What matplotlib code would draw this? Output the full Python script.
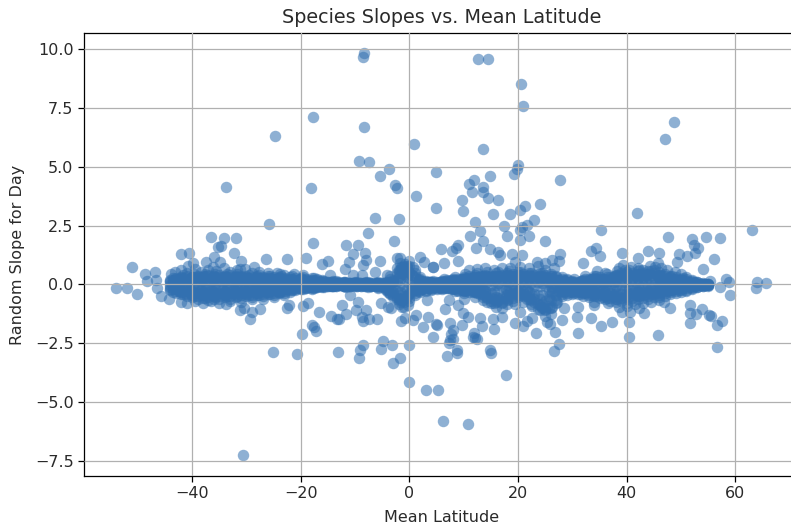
#!/usr/bin/env python3
"""Species slopes vs. mean latitude scatter."""

import matplotlib
matplotlib.use('Agg')
import matplotlib.pyplot as plt
import numpy as np

# ---------------------------------------------------------------------
# DATA
# ---------------------------------------------------------------------

# the dense band around zero
BAND_LAT = [
    -44, -43, -42, -41, -40, -39, -38, -37, -36, -35,
    -34, -33, -32, -31, -30, -29, -28, -27, -26, -25,
    -24, -23, -22, -21, -20, -19, -18, -17, -16, -15,
    -14, -13, -12, -11, -10, -9, -8, -7, -6, -5,
    -4, -3, -2, -1, 0, 1, 2, 3, 4, 5,
    6, 7, 8, 9, 10, 11, 12, 13, 14, 15,
    16, 17, 18, 19, 20, 21, 22, 23, 24, 25,
    26, 27, 28, 29, 30, 31, 32, 33, 34, 35,
    36, 37, 38, 39, 40, 41, 42, 43, 44, 45,
    46, 47, 48, 49, 50, 51, 52, 53, 54, 55,
]
BAND_TOP = [
    .20, .26, .30, .36, .33, .38, .35, .40, .36, .39,
    .35, .40, .34, .38, .36, .33, .37, .32, .35, .30,
    .32, .28, .30, .26, .29, .24, .26, .22, .18, .12,
    .15, .10, .12, .08, .10, .07, .09, .06, .08, .07,
    .10, .20, .60, .80, 1.0, .60, .30, .15, .12, .10,
    .14, .18, .25, .22, .30, .34, .40, .36, .42, .38,
    .48, .42, .50, .44, .52, .46, .50, .42, .48, .40,
    .44, .36, .30, .22, .15, .10, .18, .25, .35, .30,
    .22, .30, .40, .50, .55, .48, .56, .50, .58, .60,
    .52, .45, .38, .30, .25, .30, .20, .12, .05, .00,
]
BAND_RIM_HIGH = [
    .16, .22, .26, .30, .30, .32, .30, .34, .31, .33,
    .31, .33, .30, .32, .30, .29, .30, .27, .28, .25,
    .26, .24, .25, .21, .23, .19, .20, .17, .14, .10,
    .11, .08, .10, .07, .08, .06, .07, .05, .06, .05,
    .08, .16, .48, .64, .80, .48, .24, .12, .10, .08,
    .11, .14, .20, .18, .25, .28, .32, .30, .34, .32,
    .38, .34, .40, .36, .42, .38, .40, .34, .38, .32,
    .36, .30, .24, .18, .12, .08, .14, .20, .28, .25,
    .18, .25, .32, .40, .44, .40, .45, .40, .46, .48,
    .42, .36, .30, .24, .20, .24, .16, .10, .04, .00,
]
BAND_UPPER = [
    .10, .12, .16, .18, .20, .17, .21, .18, .22, .19,
    .20, .17, .21, .18, .16, .19, .15, .18, .14, .17,
    .15, .12, .16, .13, .14, .11, .13, .10, .09, .07,
    .08, .06, .07, .05, .06, .04, .05, .04, .05, .04,
    .06, .12, .30, .45, .55, .32, .15, .09, .08, .06,
    .08, .10, .13, .11, .16, .18, .20, .19, .22, .20,
    .25, .21, .26, .23, .27, .24, .26, .22, .25, .21,
    .23, .19, .16, .12, .09, .06, .10, .13, .18, .16,
    .12, .16, .21, .26, .29, .25, .29, .26, .30, .31,
    .27, .23, .20, .16, .13, .15, .10, .06, .03, .00,
]
BAND_CENTER = [
    -.02, -.04, -.06, -.05, -.08, -.06, -.09, -.07, -.10, -.08,
    -.07, -.09, -.06, -.08, -.05, -.07, -.04, -.06, -.03, -.05,
    -.04, -.03, -.02, -.04, -.01, -.03, -.02, -.01, -.02, .01,
    .02, .01, .02, .00, .02, .00, .01, -.01, .01, -.01,
    -.02, -.05, -.08, -.06, .05, -.04, -.03, -.02, -.03, -.02,
    -.01, .00, .01, -.02, -.01, .01, .02, -.01, .01, -.03,
    -.04, -.05, -.02, -.03, -.01, -.02, -.03, -.05, -.06, -.08,
    -.06, -.04, -.03, -.04, -.05, -.06, -.05, -.04, -.03, -.05,
    -.05, -.06, -.05, -.04, -.06, -.05, -.03, -.04, -.02, -.03,
    -.02, -.03, -.01, -.02, -.03, -.01, .00, -.02, -.01, -.02,
]
BAND_LOWER = [
    -.12, -.18, -.24, -.26, -.30, -.32, -.31, -.34, -.33, -.35,
    -.30, -.33, -.28, -.31, -.27, -.29, -.25, -.28, -.23, -.25,
    -.21, -.19, -.16, -.14, -.11, -.09, -.10, -.07, -.06, -.04,
    -.05, -.03, -.04, -.05, -.03, -.04, -.03, -.05, -.04, -.06,
    -.16, -.30, -.45, -.50, -.38, -.25, -.17, -.15, -.12, -.11,
    -.10, -.09, -.11, -.15, -.19, -.16, -.18, -.23, -.26, -.38,
    -.52, -.55, -.46, -.38, -.30, -.27, -.33, -.41, -.60, -.72,
    -.68, -.44, -.27, -.25, -.23, -.22, -.26, -.30, -.27, -.32,
    -.34, -.38, -.40, -.39, -.42, -.38, -.34, -.32, -.33, -.29,
    -.30, -.26, -.22, -.19, -.16, -.15, -.10, -.07, -.04, -.03,
]
BAND_RIM_LOW = [
    -.18, -.28, -.34, -.40, -.44, -.50, -.46, -.52, -.48, -.50,
    -.44, -.48, -.42, -.45, -.40, -.43, -.36, -.40, -.34, -.36,
    -.30, -.28, -.24, -.20, -.16, -.13, -.14, -.10, -.08, -.05,
    -.06, -.03, -.05, -.06, -.04, -.05, -.04, -.06, -.05, -.08,
    -.24, -.44, -.68, -.76, -.56, -.36, -.24, -.22, -.18, -.16,
    -.14, -.13, -.16, -.22, -.28, -.24, -.27, -.34, -.38, -.56,
    -.76, -.80, -.68, -.56, -.44, -.40, -.48, -.60, -.88, -1.08,
    -1.0, -.64, -.40, -.36, -.34, -.32, -.38, -.44, -.40, -.46,
    -.50, -.56, -.60, -.58, -.62, -.56, -.50, -.46, -.48, -.42,
    -.44, -.38, -.32, -.28, -.24, -.22, -.14, -.10, -.06, -.04,
]
BAND_BOTTOM = [
    -.22, -.35, -.42, -.50, -.55, -.62, -.58, -.65, -.60, -.63,
    -.55, -.60, -.52, -.56, -.50, -.54, -.46, -.50, -.42, -.45,
    -.38, -.35, -.30, -.25, -.20, -.16, -.18, -.12, -.10, -.06,
    -.08, -.04, -.06, -.08, -.05, -.07, -.05, -.08, -.06, -.10,
    -.30, -.55, -.85, -.95, -.70, -.45, -.30, -.28, -.22, -.20,
    -.18, -.16, -.20, -.28, -.35, -.30, -.34, -.42, -.48, -.70,
    -.95, -1.0, -.85, -.70, -.55, -.50, -.60, -.75, -1.1, -1.35,
    -1.25, -.80, -.50, -.45, -.42, -.40, -.48, -.55, -.50, -.58,
    -.62, -.70, -.75, -.72, -.78, -.70, -.62, -.58, -.60, -.52,
    -.55, -.48, -.40, -.35, -.30, -.28, -.18, -.12, -.08, -.05,
]

# second pass through the band, at the latitudes between the first ones
FILL_LAT = [
    -43.6, -42.4, -41.7, -40.4, -39.6, -38.3, -37.6, -36.4, -35.7,
    -34.4, -33.6, -32.3, -31.7, -30.4, -29.6, -28.3, -27.6, -26.4, -25.7,
    -24.4, -23.6, -22.3, -21.7, -20.4, -19.6, -18.3, -17.6, -16.4, -15.7,
    -14.4, -13.6, -12.3, -11.7, -10.4, -9.6, -8.3, -7.6, -6.4, -5.7,
    -4.4, -3.6, -2.3, -1.7, -0.4, 0.4, 1.7, 2.3, 3.6, 4.4,
    5.7, 6.3, 7.6, 8.4, 9.6, 10.3, 11.7, 12.4, 13.6, 14.3,
    15.6, 16.4, 17.7, 18.3, 19.6, 20.4, 21.7, 22.3, 23.6, 24.4,
    25.7, 26.3, 27.6, 28.4, 29.7, 30.3, 31.6, 32.4, 33.7, 34.3,
    35.6, 36.4, 37.7, 38.3, 39.6, 40.4, 41.7, 42.3, 43.6, 44.4,
    45.7, 46.3, 47.6, 48.4, 49.7, 50.3, 51.6, 52.4, 53.7, 54.4,
]
FILL_A = [
    .28, .22, .40, .25, .44, .28, .46, .26, .43,
    .30, .45, .27, .44, .24, .42, .26, .40, .22, .38,
    .24, .36, .20, .35, .18, .33, .16, .29, .10, .16,
    .07, .14, .06, .11, .05, .12, .05, .10, .04, .11,
    .12, .35, .70, .90, .80, .42, .20, .16, .09, .14,
    .10, .24, .15, .31, .22, .44, .28, .47, .30, .52,
    .33, .55, .36, .56, .34, .54, .32, .50, .30, .47,
    .28, .35, .18, .20, .08, .22, .14, .38, .22, .34,
    .24, .44, .38, .58, .40, .60, .38, .62, .44, .56,
    .34, .42, .24, .36, .18, .26, .08, .10, .02, .00,
]
FILL_HIGH = [
    .18, .20, .28, .24, .32, .26, .34, .28, .32,
    .28, .32, .26, .30, .26, .29, .25, .28, .22, .26,
    .22, .24, .20, .22, .17, .20, .15, .17, .10, .11,
    .10, .09, .07, .08, .05, .07, .05, .06, .05, .07,
    .08, .22, .48, .62, .72, .40, .18, .12, .10, .09,
    .10, .14, .18, .20, .24, .28, .30, .32, .34, .36,
    .36, .38, .36, .40, .38, .40, .36, .38, .32, .34,
    .28, .24, .16, .14, .09, .12, .15, .24, .22, .24,
    .18, .30, .32, .40, .38, .42, .40, .44, .42, .42,
    .34, .32, .24, .22, .16, .18, .08, .06, .02, .00,
]
FILL_B = [
    .05, .08, .06, .12, .04, .14, .06, .13, .08,
    .12, .06, .13, .05, .10, .07, .11, .04, .10, .06,
    .08, .03, .09, .05, .08, .04, .06, .03, .04, .02,
    .05, .02, .04, .01, .03, .02, .03, .00, .03, .02,
    .02, .05, .15, .22, .30, .12, .06, .04, .03, .02,
    .04, .05, .08, .04, .08, .10, .12, .08, .12, .09,
    .14, .08, .13, .09, .14, .08, .12, .07, .10, .08,
    .10, .07, .05, .04, .02, .03, .06, .08, .07, .05,
    .07, .10, .12, .15, .12, .16, .12, .17, .14, .15,
    .11, .09, .08, .07, .06, .05, .03, .02, .01, .00,
]
FILL_C = [
    -.08, -.14, -.16, -.22, -.18, -.24, -.20, -.26, -.19,
    -.22, -.18, -.24, -.16, -.22, -.15, -.20, -.13, -.18, -.12,
    -.14, -.10, -.11, -.08, -.07, -.06, -.05, -.04, -.03, -.02,
    -.03, -.01, -.02, -.03, -.01, -.02, -.03, -.02, -.04, -.03,
    -.10, -.18, -.28, -.30, -.20, -.12, -.10, -.08, -.06, -.06,
    -.05, -.06, -.08, -.10, -.09, -.11, -.13, -.16, -.24, -.32,
    -.34, -.28, -.20, -.16, -.15, -.18, -.24, -.36, -.46, -.45,
    -.28, -.17, -.14, -.13, -.14, -.16, -.17, -.15, -.19, -.20,
    -.22, -.24, -.22, -.25, -.21, -.19, -.18, -.19, -.16, -.17,
    -.14, -.12, -.10, -.09, -.08, -.05, -.04, -.02, -.01, -.02,
]
FILL_LOW = [
    -.20, -.24, -.30, -.34, -.38, -.40, -.42, -.38, -.40,
    -.38, -.36, -.36, -.34, -.34, -.32, -.32, -.30, -.28, -.28,
    -.24, -.22, -.18, -.16, -.12, -.12, -.09, -.09, -.05, -.06,
    -.05, -.05, -.04, -.06, -.03, -.05, -.04, -.06, -.04, -.10,
    -.20, -.36, -.52, -.60, -.44, -.28, -.20, -.16, -.14, -.12,
    -.10, -.12, -.16, -.20, -.20, -.22, -.26, -.30, -.42, -.56,
    -.62, -.56, -.46, -.36, -.32, -.36, -.48, -.66, -.84, -.82,
    -.50, -.30, -.28, -.26, -.24, -.28, -.34, -.32, -.36, -.38,
    -.42, -.46, -.44, -.48, -.44, -.40, -.36, -.38, -.32, -.34,
    -.28, -.26, -.22, -.18, -.16, -.10, -.07, -.04, -.02, -.02,
]
FILL_D = [
    -.30, -.28, -.42, -.36, -.50, -.42, -.56, -.44, -.52,
    -.40, -.50, -.38, -.48, -.36, -.46, -.34, -.44, -.30, -.40,
    -.28, -.32, -.20, -.24, -.14, -.18, -.12, -.14, -.06, -.09,
    -.06, -.08, -.05, -.09, -.04, -.08, -.05, -.09, -.06, -.14,
    -.25, -.42, -.62, -.75, -.55, -.34, -.26, -.18, -.16, -.14,
    -.14, -.16, -.20, -.26, -.24, -.28, -.32, -.38, -.55, -.75,
    -.80, -.68, -.58, -.44, -.40, -.46, -.62, -.85, -1.05, -1.0,
    -.62, -.38, -.34, -.32, -.30, -.36, -.42, -.38, -.45, -.48,
    -.52, -.58, -.55, -.60, -.54, -.48, -.45, -.48, -.40, -.42,
    -.36, -.32, -.28, -.24, -.22, -.14, -.10, -.06, -.04, -.03,
]

# species sitting off the band, (mean latitude, slope)
WEST_POINTS = [
    (-54.0, -.15), (-51.9, -.15), (-50.1, -.39), (-51.1, .73), (-48.7, .45),
    (-46.9, .55), (-48.3, .15), (-46.6, .19), (-46.4, -.13), (-45.8, -.49),
    (-44.2, -.63), (-42.1, -.76), (-36.6, 2.01), (-34.2, 1.97), (-31.9, 1.97),
    (-35.2, 1.58), (-34.7, 1.64), (-42.1, 1.28), (-40.6, 1.33), (-35.9, 1.16),
    (-32.3, 1.35), (-37.4, .94), (-34.9, .94), (-31.0, 1.0), (-40.7, .80),
    (-39.9, .90), (-36.1, .76), (-43.9, .45), (-26.4, 1.07), (-22.6, 1.09),
    (-28.6, .76), (-25.9, 2.58), (-31.2, .65), (-23.8, .43), (-19.0, 1.14),
    (-17.7, 1.78), (-16.1, .86), (-15.0, 1.0), (-14.6, .40), (-11.6, 1.68),
    (-9.4, 1.68), (-7.7, 2.2), (-2.9, 1.87), (-10.3, 1.28), (-8.1, 1.33),
    (-11.1, .94), (-11.9, .65), (-8.0, 1.04), (-8.5, .83), (-5.4, .99),
    (-6.3, .55), (-10.4, .40), (-8.8, .40), (-2.3, 1.14), (-1.7, 1.11),
    (-1.4, .76), (1.97, 1.18), (2.6, .97), (4.4, .76), (.6, .76),
    (-4.2, .40), (-1.7, .40), (-.8, .40), (-29.3, -1.48), (-31.2, -1.09),
    (-30.5, -1.0), (-29.0, -1.16), (-27.5, -1.04), (-33.7, -.85), (-22.6, -1.0),
    (-22.1, -.87), (-19.6, -.92), (-18.6, -.80), (-19.8, -2.1), (-18.0, -1.72),
    (-17.5, -1.8), (-17.2, -1.98), (-16.7, -1.16), (-14.5, -1.34), (-13.4, -1.47),
    (-13.0, -1.48), (-11.7, -1.27), (-12.4, -.89), (-11.0, -.45), (-9.4, -.73),
    (-9.9, -1.1), (-8.0, -1.1), (-8.8, -1.37), (-8.6, -1.55), (-7.5, -1.48),
    (-6.0, -1.45), (-5.2, -.77), (-3.9, -.97), (-3.3, -1.0), (-1.6, -1.57),
    (-.8, -1.41), (.75, -1.51), (1.2, -1.3), (2.5, -1.8), (3.5, -1.4),
    (4.4, -2.25), (4.9, -1.7), (-1.4, -.94), (-.2, -.87), (3.2, -.66),
]
EAST_POINTS = [
    (12.0, 2.67), (17.4, 2.49), (20.3, 2.32), (20.7, 2.43), (21.6, 2.53),
    (23.0, 2.75), (11.2, 2.07), (13.0, 2.28), (17.9, 2.07), (22.0, 2.07),
    (20.3, 1.9), (13.5, 1.87), (24.9, 1.87), (35.3, 2.32), (47.6, 2.0),
    (52.1, 1.92), (54.6, 2.04), (57.2, 1.97), (63.1, 2.32), (52.3, 1.68),
    (53.2, 1.57), (5.8, 1.51), (7.8, 1.44), (9.0, 1.68), (8.6, 1.54),
    (12.2, 1.57), (14.9, 1.51), (16.4, 1.37), (16.7, 1.26), (18.8, 1.3),
    (20.7, 1.26), (19.5, .97), (27.7, 1.3), (27.6, 1.01), (26.2, 1.04),
    (23.5, .97), (25.0, .93), (33.4, 1.43), (34.3, 1.57), (35.1, 1.19),
    (39.1, 1.33), (42.0, 1.14), (44.0, 1.44), (45.9, 1.33), (49.7, 1.3),
    (51.1, 1.19), (52.6, 1.33), (56.1, 1.09), (54.0, .67), (6.4, .90),
    (9.0, 1.0), (4.3, .76), (31.9, .90), (39.4, .83), (45.7, .93),
    (49.2, .97), (58.3, .25), (58.8, .12), (55.4, .16), (64.0, .12),
    (65.7, .05), (63.8, -.15), (57.2, -.09), (59.1, -.45), (51.7, -.87),
    (53.8, -1.06), (51.7, -1.23), (52.7, -1.26), (55.1, -1.3), (55.5, -1.34),
    (51.7, -1.65), (57.5, -1.55), (56.7, -1.73), (45.7, -2.15), (40.4, -2.25),
    (40.4, -1.61), (37.3, -1.61), (35.3, -1.77), (33.5, -1.43), (31.1, -2.05),
    (30.8, -1.37), (28.1, -1.51), (26.8, -2.01), (25.3, -1.58), (25.9, -1.68),
    (23.3, -2.05), (19.5, -1.65), (21.0, -1.77), (21.6, -1.54), (22.5, -1.41),
    (15.6, -1.91), (15.3, -1.45), (13.4, -1.77), (13.0, -1.41), (11.8, -2.08),
    (12.4, -2.33), (11.7, -2.22), (9.6, -1.72), (10.7, -1.4), (9.9, -1.2),
    (6.6, -1.06), (7.5, -1.65), (8.1, -1.94), (7.5, -2.36), (7.2, -2.5),
    (5.0, -1.72), (8.7, -2.79), (14.9, -2.79), (56.7, -2.65),
    (48.0, -1.0), (43.1, -1.2), (42.2, -1.02), (39.1, -1.19), (40.6, -1.16),
    (31.1, -.94), (33.9, -.87), (46.8, -.73), (28.4, -1.02), (27.1, -.73),
    (17.0, -1.37), (20.4, -1.16), (9.0, -.87), (7.2, -.66),
]
HIGH_POINTS = [
    (-8.3, 9.87), (-8.6, 9.7), (-17.7, 7.14), (-24.7, 6.32), (-8.3, 6.72),
    (-9.3, 5.24), (-7.5, 5.19), (-3.7, 4.9), (-5.4, 4.6), (-2.6, 4.22),
    (-2.3, 4.09), (-33.8, 4.16), (-18.2, 4.1), (-6.4, 2.84), (-2.0, 2.79),
    (12.6, 9.6), (14.4, 9.6), (20.5, 8.52), (20.9, 7.6), (48.7, 6.9),
    (47.0, 6.18), (.93, 5.98), (13.5, 5.78), (4.9, 4.8), (20.0, 5.1),
    (19.8, 4.9), (19.2, 4.7), (27.7, 4.46), (14.8, 4.6), (11.8, 4.45),
    (10.9, 4.26), (13.5, 4.16), (11.5, 3.92), (13.6, 3.95), (14.5, 3.67),
    (16.4, 3.58), (9.6, 3.58), (1.2, 3.78), (4.9, 3.24), (9.8, 3.14),
    (24.1, 3.44), (21.3, 3.33), (20.3, 3.18), (18.6, 2.99), (15.4, 2.99),
    (41.9, 3.04),
]
LOW_POINTS = [
    (-25.2, -2.89), (-20.7, -2.97), (-13.2, -2.89), (-8.6, -2.58), (-9.1, -2.79),
    (-9.2, -3.13), (-4.8, -2.39), (-5.2, -2.75), (-3.2, -2.58), (-1.7, -3.13),
    (-3.1, -3.33), (-.1, -2.58), (-.1, -4.15), (3.1, -4.5), (5.2, -4.5),
    (6.1, -5.81), (10.7, -5.92), (17.7, -3.85), (-30.7, -7.25), (15.0, -2.93),
    (6.9, -3.04), (8.8, -2.93), (8.1, -2.33), (7.6, -2.1), (12.1, -2.29),
    (26.6, -2.83), (27.6, -2.53),
]
# filling of the vertical spikes at the equator and near 25 degrees
SPIKE_POINTS = [
    (-1.6, .75), (-1.2, .5), (-.8, .85), (-.4, .55), (-1.8, -.6), (-1.1, -.65),
    (-.6, -.55), (24.4, -.95), (24.9, -1.05), (25.4, -.9), (25.7, -1.0),
    (26.2, -.95), (17.0, -.75), (16.2, -.7), (18.2, -.6),
]
# uneven rim of the band where it is widest
RIM_POINTS = [
    (-43.2, .55), (-42.0, .62), (-41.0, .50), (-39.5, .66), (-38.3, .55),
    (-37.0, .62), (-35.6, .58), (-34.2, .70), (-33.0, .52), (-31.8, .60),
    (-30.2, .66), (-29.0, .50), (-27.6, .55), (-26.0, .48), (-24.4, .50),
    (-23.0, .42), (-21.2, .46), (-19.5, .40), (38.5, .70), (39.6, .60),
    (40.8, .75), (42.0, .72), (43.0, .62), (44.2, .80), (45.3, .75),
    (46.4, .68), (47.5, .62), (48.8, .55), (50.0, .45), (11.0, .60),
    (12.5, .65), (14.0, .70), (15.5, .62), (17.0, .72), (18.5, .68),
    (20.3, .75), (22.0, .70), (23.6, .78), (25.0, .62), (26.7, .70),
    (34.6, .58), (36.0, .50), (-41.0, -.80), (-39.5, -.72), (-38.0, -.80),
    (-36.5, -.72), (-35.0, -.78), (-33.0, -.70), (-31.0, -.75), (-29.0, -.62),
    (-27.0, -.60), (-25.0, -.55), (-23.0, -.45), (10.0, -.60), (12.0, -.55),
    (13.5, -.66), (15.0, -.80), (38.5, -.95), (40.0, -.90), (41.5, -.85),
    (43.0, -.80), (44.5, -.75), (46.0, -.68), (36.5, -.80), (34.0, -.75),
    (19.5, -.85), (21.0, -.75), (22.5, -.90),
]

XTICKS = [-40, -20, 0, 20, 40, 60]
YTICKS = [-7.5, -5.0, -2.5, 0.0, 2.5, 5.0, 7.5, 10.0]

# ---------------------------------------------------------------------
# CONFIG
# ---------------------------------------------------------------------

POINT_COLOR = '#3270b0'
TEXT_COLOR = '#2a2a2a'
# the reference is cropped just left of the right spine
AXES_RECT = [84 / 791, 1 - 476 / 526, 716 / 791, 443 / 526]


def main() -> None:
    lats = []
    slopes = []
    for row in (BAND_TOP, BAND_RIM_HIGH, BAND_UPPER, BAND_CENTER, BAND_LOWER,
                BAND_RIM_LOW, BAND_BOTTOM):
        lats.extend(BAND_LAT)
        slopes.extend(row)
    for row in (FILL_A, FILL_HIGH, FILL_B, FILL_C, FILL_LOW, FILL_D):
        lats.extend(FILL_LAT)
        slopes.extend(row)
    for points in (WEST_POINTS, EAST_POINTS, HIGH_POINTS, LOW_POINTS,
                   SPIKE_POINTS, RIM_POINTS):
        lats.extend(p[0] for p in points)
        slopes.extend(p[1] for p in points)

    fig = plt.figure(figsize=(7.91, 5.26), dpi=100)
    ax = fig.add_axes(AXES_RECT)
    ax.scatter(np.array(lats), np.array(slopes), s=68, c=POINT_COLOR, alpha=0.55,
               linewidths=0)

    ax.set_xlim(-59.9, 71.9)
    ax.set_ylim(-8.15, 10.7)
    ax.set_xticks(XTICKS)
    ax.set_yticks(YTICKS)
    ax.tick_params(labelsize=11.5, length=4, width=0.9, labelcolor=TEXT_COLOR)
    ax.set_xlabel('Mean Latitude', fontsize=11.5, color=TEXT_COLOR, labelpad=6)
    ax.set_ylabel('Random Slope for Day', fontsize=11.5, color=TEXT_COLOR, labelpad=7)
    ax.set_title('Species Slopes vs. Mean Latitude', fontsize=13.8, color=TEXT_COLOR,
                 pad=7)
    ax.grid(True, linewidth=0.9)
    ax.set_axisbelow(False)
    for spine in ax.spines.values():
        spine.set_linewidth(0.9)

    fig.savefig('out.png', dpi=100)
    plt.close(fig)


if __name__ == '__main__':
    main()
